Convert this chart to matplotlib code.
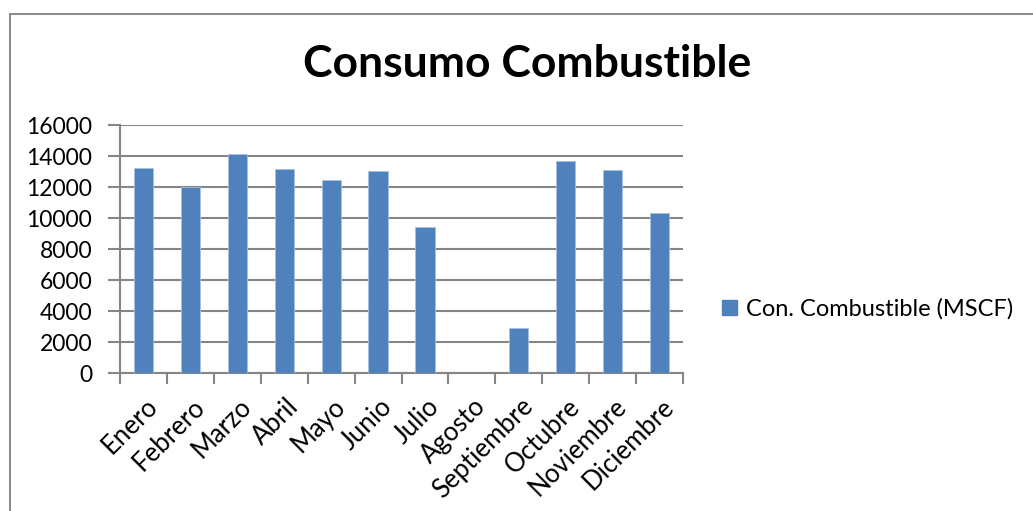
import matplotlib
matplotlib.use("Agg")
import matplotlib.pyplot as plt
from matplotlib.patches import Rectangle, Patch
from matplotlib.ticker import MultipleLocator, FixedLocator, NullFormatter

months = ["Enero", "Febrero", "Marzo", "Abril", "Mayo", "Junio", "Julio",
          "Agosto", "Septiembre", "Octubre", "Noviembre", "Diciembre"]
consumo = [13200, 12000, 14100, 13150, 12420, 13020, 9400,
           0, 2900, 13700, 13070, 10320]
series_label = "Con. Combustible (MSCF)"
title = "Consumo Combustible"

plt.rcParams["font.family"] = ["Lato", "DejaVu Sans"]

W, H = 1033, 511
fig = plt.figure(figsize=(W / 100, H / 100), dpi=100)
fig.patch.set_facecolor("white")

# chart frame
fig.add_artist(Rectangle((9.5 / W, -0.05), (W + 20) / W, (H - 13.5) / H + 0.05,
                         transform=fig.transFigure, fill=False,
                         edgecolor="#8c8c8c", linewidth=1.5))

left, right, top, bottom = 120, 683, 125, 373
ax = fig.add_axes([left / W, 1 - bottom / H, (right - left) / W, (bottom - top) / H])

bar_color = "#4F81BD"
x = list(range(len(months)))
ax.bar(x, consumo, width=0.41, color=bar_color, edgecolor="#a9c1e0",
       linewidth=0.6, zorder=3)

ax.set_xlim(-0.5, len(months) - 0.5)
ax.set_ylim(0, 16000)
ax.yaxis.set_major_locator(MultipleLocator(2000))
ax.grid(axis="y", color="#868686", linewidth=1.5, zorder=0)
ax.set_axisbelow(True)

for s in ["top", "right"]:
    ax.spines[s].set_visible(False)
ax.spines["left"].set_color("#868686")
ax.spines["bottom"].set_color("#868686")
ax.spines["left"].set_linewidth(1.5)
ax.spines["bottom"].set_linewidth(1.5)

ax.tick_params(axis="y", length=9, width=1.5, color="#868686",
               labelsize=16.5, pad=11, labelcolor="black")
ax.xaxis.set_major_locator(FixedLocator([i - 0.5 for i in range(len(months) + 1)]))
ax.xaxis.set_major_formatter(NullFormatter())
ax.tick_params(axis="x", which="major", length=8, width=1.5, color="#868686")

for i, m in enumerate(months):
    ax.annotate(m, xy=(i, 0), xycoords=("data", "axes fraction"),
                xytext=(1, -15), textcoords="offset points",
                rotation=45, ha="right", va="top", rotation_mode="anchor",
                fontsize=18.5, color="black")

fig.text(527 / W, 1 - 64 / H, title, ha="center", va="center",
         fontsize=32, fontweight="bold", color="black")

fig.legend(handles=[Patch(facecolor=bar_color, edgecolor=bar_color, label=series_label)],
           loc="center left", bbox_to_anchor=(722 / W, 1 - 309 / H),
           frameon=False, fontsize=17, handlelength=0.65, handleheight=0.65,
           handletextpad=0.35, borderaxespad=0, borderpad=0)

fig.savefig("out.png", dpi=100, facecolor="white")
